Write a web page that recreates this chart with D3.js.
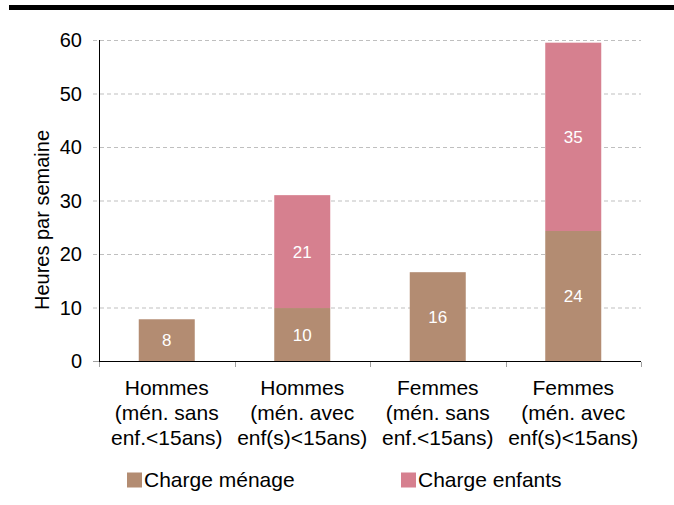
<!DOCTYPE html>
<html>
<head>
<meta charset="utf-8">
<script src="https://cdn.jsdelivr.net/npm/d3@7"></script>
<style>
  body { margin: 0; background: #fff; }
  text { font-family: Arial, "Liberation Sans", sans-serif; }
</style>
</head>
<body>
<div id="chart"></div>
<script>
// categories (each label on 3 lines)
const categories = [
  ["Hommes", "(mén. sans", "enf.<15ans)"],
  ["Hommes", "(mén. avec", "enf(s)<15ans)"],
  ["Femmes", "(mén. sans", "enf.<15ans)"],
  ["Femmes", "(mén. avec", "enf(s)<15ans)"]
]
const chargeMenage = [7.8, 9.9, 16.6, 24.3]
const chargeEnfants = [0, 21.1, 0, 35.2]
const menageLabels = ["8", "10", "16", "24"]
const enfantsLabels = ["", "21", "", "35"]
const seriesNames = ["Charge ménage", "Charge enfants"]
const yTicks = [0, 10, 20, 30, 40, 50, 60]

const width = 674, height = 505
const colors = ["#b38c72", "#d6808f"]
const fontSize = 20

const svg = d3.select("#chart").append("svg")
    .attr("width", width)
    .attr("height", height)

// top black rule
svg.append("rect")
    .attr("x", 9).attr("y", 5)
    .attr("width", width - 9).attr("height", 5)
    .attr("fill", "#000")

const plotLeft = 99, plotRight = 641, plotTop = 40, plotBottom = 361

const x = d3.scaleBand()
    .domain(d3.range(categories.length))
    .range([plotLeft, plotRight])
    .paddingInner(0)

const y = d3.scaleLinear()
    .domain([0, 60])
    .range([plotBottom, plotTop])

// gridlines
svg.append("g")
  .selectAll("line")
  .data(yTicks.filter(d => d > 0))
  .join("line")
    .attr("x1", plotLeft - 6)
    .attr("x2", plotRight)
    .attr("y1", d => y(d) + 0.5)
    .attr("y2", d => y(d) + 0.5)
    .attr("stroke", "#bfbfbf")
    .attr("stroke-width", 1)
    .attr("stroke-dasharray", "4,3")

// y tick labels
svg.append("g")
  .selectAll("text")
  .data(yTicks)
  .join("text")
    .attr("x", 82)
    .attr("y", d => y(d))
    .attr("dy", "0.35em")
    .attr("text-anchor", "end")
    .attr("font-size", fontSize)
    .attr("fill", "#000")
    .text(d => d)

// y title
svg.append("text")
    .attr("transform", "translate(42,220) rotate(-90)")
    .attr("text-anchor", "middle")
    .attr("dy", "0.35em")
    .attr("font-size", fontSize)
    .text("Heures par semaine")

// bars
const barW = 56
const stack = categories.map((c, i) => [
  { i, y0: 0, y1: chargeMenage[i], label: menageLabels[i], s: 0 },
  { i, y0: chargeMenage[i], y1: chargeMenage[i] + chargeEnfants[i], label: enfantsLabels[i], s: 1 }
]).flat().filter(d => d.y1 > d.y0)

svg.append("g")
  .selectAll("rect")
  .data(stack)
  .join("rect")
    .attr("x", d => x(d.i) + x.bandwidth() / 2 - barW / 2)
    .attr("y", d => y(d.y1))
    .attr("width", barW)
    .attr("height", d => y(d.y0) - y(d.y1))
    .attr("fill", d => colors[d.s])

svg.append("g")
  .selectAll("text")
  .data(stack.filter(d => d.label))
  .join("text")
    .attr("x", d => x(d.i) + x.bandwidth() / 2)
    .attr("y", d => (y(d.y0) + y(d.y1)) / 2)
    .attr("dy", "0.36em")
    .attr("text-anchor", "middle")
    .attr("font-family", "'Open Sans', sans-serif")
    .attr("font-size", 17)
    .attr("fill", "#fff")
    .text(d => d.label)

// axes lines
svg.append("line")
    .attr("x1", plotLeft + 0.5).attr("x2", plotLeft + 0.5)
    .attr("y1", plotTop).attr("y2", plotBottom)
    .attr("stroke", "#000")
svg.append("line")
    .attr("x1", plotLeft).attr("x2", plotRight)
    .attr("y1", plotBottom + 0.5).attr("y2", plotBottom + 0.5)
    .attr("stroke", "#000")

// x ticks at category boundaries
const boundaries = d3.range(categories.length + 1).map(i => plotLeft + i * x.bandwidth())
svg.append("g")
  .selectAll("line")
  .data(boundaries)
  .join("line")
    .attr("x1", d => Math.round(d) + 0.5)
    .attr("x2", d => Math.round(d) + 0.5)
    .attr("y1", plotBottom + 1)
    .attr("y2", plotBottom + 6)
    .attr("stroke", "#a0a0a0")

// y tick at zero
svg.append("line")
    .attr("x1", plotLeft - 6).attr("x2", plotLeft)
    .attr("y1", plotBottom + 0.5).attr("y2", plotBottom + 0.5)
    .attr("stroke", "#a0a0a0")

// category labels
const catG = svg.append("g")
  .selectAll("text")
  .data(categories)
  .join("text")
    .attr("x", (d, i) => x(i) + x.bandwidth() / 2)
    .attr("y", 388)
    .attr("text-anchor", "middle")
    .attr("font-size", 21)
catG.selectAll("tspan")
  .data(d => d)
  .join("tspan")
    .attr("x", function () { return this.parentNode.getAttribute("x") })
    .attr("dy", (d, j) => j === 0 ? "0.35em" : 25)
    .text(d => d)

// legend
const legendX = [127, 401]
const leg = svg.append("g")
  .selectAll("g")
  .data(seriesNames)
  .join("g")
    .attr("transform", (d, i) => `translate(${legendX[i]},480)`)
leg.append("rect")
    .attr("x", 0).attr("y", -7.5)
    .attr("width", 15).attr("height", 15)
    .attr("fill", (d, i) => colors[i])
leg.append("text")
    .attr("x", 17)
    .attr("dy", "0.35em")
    .attr("font-size", 21)
    .text(d => d)
</script>
</body>
</html>
